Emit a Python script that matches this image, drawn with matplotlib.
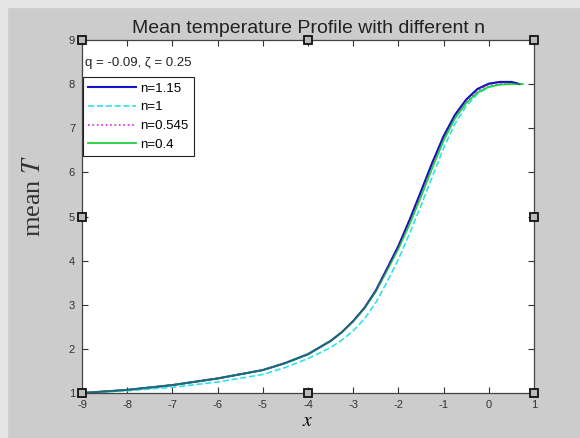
import matplotlib
matplotlib.use("Agg")
import matplotlib.pyplot as plt
from matplotlib.patches import Rectangle

# mean temperature profile T(x) for several power-law indices n
x_main = [-9, -8, -7, -6, -5, -4.5, -4, -3.5, -3.25, -3, -2.75, -2.5, -2.25,
          -2, -1.75, -1.5, -1.25, -1, -0.75, -0.5, -0.25, 0, 0.25, 0.5, 0.75]
x_short = x_main[:-1] + [0.68]

T_115 = [1.0, 1.07, 1.18, 1.33, 1.52, 1.68, 1.88, 2.18, 2.38, 2.63, 2.93,
         3.32, 3.82, 4.33, 4.93, 5.57, 6.22, 6.82, 7.30, 7.65, 7.89, 8.01,
         8.05, 8.05, 8.0]
T_1 = [1.0, 1.05, 1.13, 1.25, 1.42, 1.58, 1.78, 2.03, 2.20, 2.41, 2.68,
       3.05, 3.52, 4.03, 4.62, 5.25, 5.9, 6.55, 7.1, 7.5, 7.78, 7.93,
       7.99, 8.0, 8.0]
T_0545 = [1.0, 1.07, 1.18, 1.33, 1.52, 1.68, 1.88, 2.18, 2.38, 2.63, 2.92,
          3.31, 3.80, 4.30, 4.88, 5.51, 6.16, 6.77, 7.26, 7.61, 7.85, 7.98,
          8.02, 8.02, 8.0]
T_04 = [1.0, 1.07, 1.18, 1.33, 1.52, 1.68, 1.88, 2.18, 2.38, 2.63, 2.92,
        3.30, 3.78, 4.27, 4.83, 5.45, 6.1, 6.72, 7.22, 7.57, 7.81, 7.94,
        7.99, 8.0, 8.0]

x_ticks = [-9, -8, -7, -6, -5, -4, -3, -2, -1, 0, 1]
y_ticks = [1, 2, 3, 4, 5, 6, 7, 8, 9]

plt.rcParams['mathtext.fontset'] = 'stix'
plt.rcParams['axes.unicode_minus'] = False
plt.rcParams['font.family'] = 'Liberation Sans'

fig = plt.figure(figsize=(5.8, 4.38), dpi=100, facecolor='#cccccc')
# lighter strip along the left and top edges of the window
fig.patches.append(Rectangle((0, 0), 0.012, 1, transform=fig.transFigure,
                             color='#e4e4e4', zorder=0))
fig.patches.append(Rectangle((0, 0.985), 1, 0.015, transform=fig.transFigure,
                             color='#e4e4e4', zorder=0))
ax = fig.add_axes([0.1414, 0.1027, 0.7793, 0.806])

ax.plot(x_short, T_115, color='#1414c8', lw=1.5, label='n=1.15')
ax.plot(x_main, T_1, color='#33e0e8', lw=1.2, ls='--', label='n=1')
ax.plot(x_main, T_0545, color='#e020e0', lw=1.2, ls=':', label='n=0.545')
ax.plot(x_main, T_04, color='#22d040', lw=1.3, label='n=0.4')
ax.plot(x_short, T_115, color='#1414a0', lw=1.2, alpha=0.55)

ax.set_xlim(-9, 1)
ax.set_ylim(1, 9)
ax.set_xticks(x_ticks)
ax.set_yticks(y_ticks)
ax.tick_params(direction='in', length=4, width=0.8, top=True, right=True,
               labelsize=8, colors='#333333', pad=5)
for s in ax.spines.values():
    s.set_color('#444444')
    s.set_linewidth(0.9)

# selection handles around the axes
hx = [-9, -4, 1, -9, 1, -9, -4, 1]
hy = [9, 9, 9, 5, 5, 1, 1, 1]
ax.plot(hx, hy, ls='none', marker='s', ms=5.5, mfc='#bbbbbb', mec='#111111',
        mew=1.3, clip_on=False, zorder=5)

ax.set_title('Mean temperature Profile with different n', fontsize=14,
             color='#222222', pad=5)
ax.set_xlabel('$x$', fontsize=14, labelpad=2)
ax.set_ylabel(r'mean $T$', fontsize=19, family='Liberation Serif',
              color='#333333')
ax.yaxis.set_label_coords(-0.082, 0.56)

ax.text(0.006, 0.935, 'q = -0.09, ζ = 0.25', transform=ax.transAxes,
        fontsize=9.5, va='center', ha='left', color='#222222')

leg = ax.legend(loc='upper left', bbox_to_anchor=(0.002, 0.895),
                borderaxespad=0, fancybox=False, framealpha=1,
                edgecolor='#222222', handlelength=3.6,
                handletextpad=0.35, labelspacing=0.5, borderpad=0.4,
                prop={'family': 'Liberation Sans', 'size': 9.5})
leg.get_frame().set_linewidth(0.8)

fig.savefig('out.png', dpi=100, facecolor=fig.get_facecolor())
